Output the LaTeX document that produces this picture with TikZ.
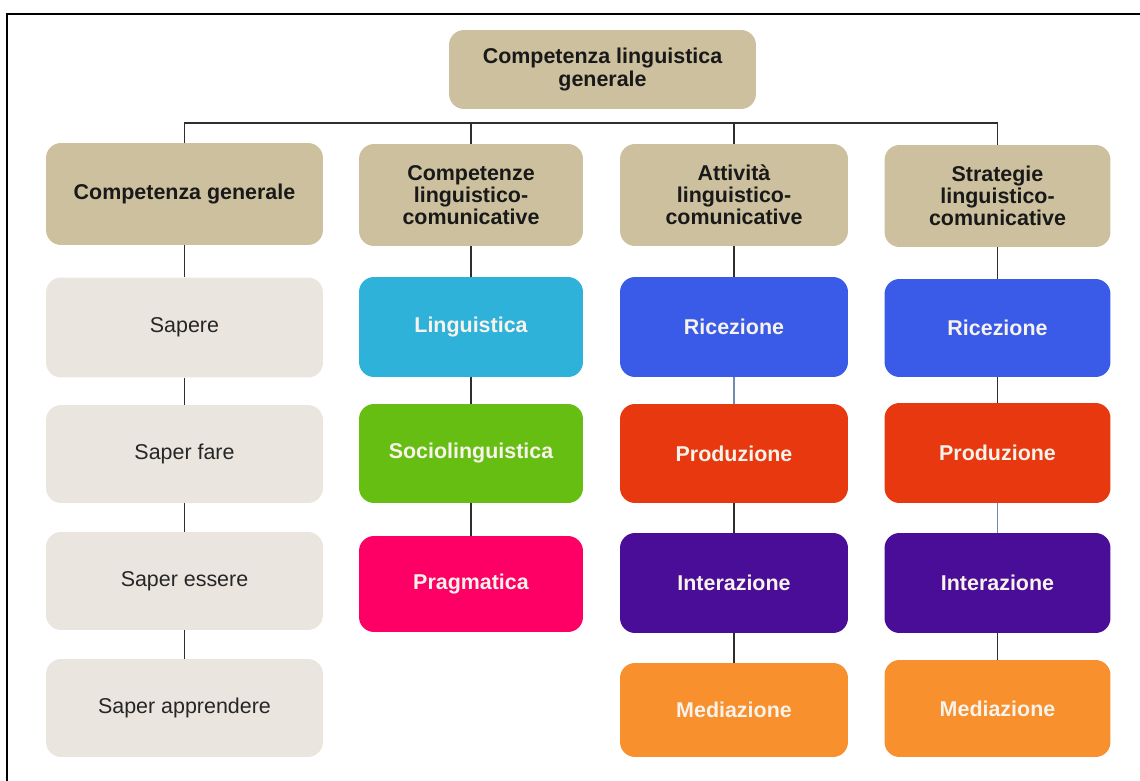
\documentclass[tikz,border=0pt]{standalone}
\usepackage{fontspec}
\setmainfont{Liberation Sans}
\usetikzlibrary{positioning}

\definecolor{headtan}{HTML}{CCC09E}
\definecolor{knowgray}{HTML}{EAE6DF}
\definecolor{lingcyan}{HTML}{2EB2DA}
\definecolor{sociogreen}{HTML}{66BE12}
\definecolor{pragpink}{HTML}{FE0065}
\definecolor{ricblue}{HTML}{395BE8}
\definecolor{prodred}{HTML}{E7380F}
\definecolor{intpurple}{HTML}{490D97}
\definecolor{medorange}{HTML}{F8902E}
\definecolor{boxtext}{HTML}{F7F2EA}
\definecolor{linkgray}{HTML}{2E2E2E}
\definecolor{linkblue}{HTML}{6F8CAE}

\def\wA{5.54cm}
\def\wB{4.48cm}
\def\wC{4.56cm}
\def\wD{4.52cm}

\begin{document}
\begin{tikzpicture}[x=0.02cm,y=-0.02cm,
    box/.style={rounded corners=0.3cm,minimum height=2cm,align=center,inner sep=2pt,
      font=\fontsize{12.2}{12.6}\selectfont\bfseries,text=boxtext},
    head/.style={box,fill=headtan,text=black!90,minimum height=2.04cm},
    know/.style={box,fill=knowgray,text=black!85,font=\fontsize{12.2}{12.6}\selectfont},
    link/.style={draw=linkgray,line width=0.7pt}]
  \useasboundingbox (0,0) rectangle (1140,781);
  \draw [line width=1.1pt] (7,781) -- (7,14) -- (1140,14);

  % top
  \node [head,minimum width=6.14cm,minimum height=1.58cm] (clg) at (602.5,69.5) {Competenza linguistica\\generale};
  \coordinate (bus) at (602.5,123);

  % headers
  \node [head,minimum width=\wA] (cgen) at (184.5,194) {Competenza generale};
  \node [head,minimum width=\wB] (comp) at (471,195) {Competenze\\linguistico-\\comunicative};
  \node [head,minimum width=\wC] (att) at (734,195) {Attività\\linguistico-\\comunicative};
  \node [head,minimum width=\wD] (strat) at (997.5,196) {Strategie\\linguistico-\\comunicative};

  % competenza generale
  \node [know,minimum width=\wA] (sap) at (184.5,327.5) {Sapere};
  \node [know,minimum width=\wA,minimum height=1.96cm] (fare) at (184.5,454) {Saper fare};
  \node [know,minimum width=\wA,minimum height=1.96cm] (ess) at (184.5,581) {Saper essere};
  \node [know,minimum width=\wA,minimum height=1.96cm] (appr) at (184.5,708) {Saper apprendere};

  % competenze
  \node [box,fill=lingcyan,minimum width=\wB] (ling) at (471,327) {Linguistica};
  \node [box,fill=sociogreen,minimum width=\wB,minimum height=1.98cm] (socio) at (471,453.5) {Sociolinguistica};
  \node [box,fill=pragpink,minimum width=\wB,minimum height=1.92cm] (prag) at (471,584) {Pragmatica};

  % attivita
  \node [box,fill=ricblue,minimum width=\wC] (aric) at (734,327) {Ricezione};
  \node [box,fill=prodred,minimum width=\wC,minimum height=1.98cm] (aprod) at (734,453.5) {Produzione};
  \node [box,fill=intpurple,minimum width=\wC] (aint) at (734,583) {Interazione};
  \node [box,fill=medorange,minimum width=\wC,minimum height=1.88cm] (amed) at (734,710) {Mediazione};

  % strategie
  \node [box,fill=ricblue,minimum width=\wD,minimum height=1.96cm] (sric) at (997.5,328) {Ricezione};
  \node [box,fill=prodred,minimum width=\wD] (sprod) at (997.5,453) {Produzione};
  \node [box,fill=intpurple,minimum width=\wD] (sint) at (997.5,583) {Interazione};
  \node [box,fill=medorange,minimum width=\wD,minimum height=1.94cm] (smed) at (997.5,708.5) {Mediazione};

  % connectors
  \draw [link] (cgen.north) |- (bus) -| (strat.north);
  \draw [link] (comp.north) -- (comp.north |- bus);
  \draw [link] (att.north) -- (att.north |- bus);

  \draw [link] (cgen) -- (sap);
  \draw [link] (sap) -- (fare);
  \draw [link] (fare) -- (ess);
  \draw [link] (ess) -- (appr);

  \draw [link] (comp) -- (ling);
  \draw [link] (ling) -- (socio);
  \draw [link] (socio) -- (prag);

  \draw [link] (att) -- (aric);
  \draw [link,draw=linkblue] (aric) -- (aprod);
  \draw [link] (aprod) -- (aint);
  \draw [link] (aint) -- (amed);

  \draw [link] (strat) -- (sric);
  \draw [link] (sric) -- (sprod);
  \draw [link,draw=linkblue] (sprod) -- (sint);
  \draw [link] (sint) -- (smed);
\end{tikzpicture}
\end{document}
